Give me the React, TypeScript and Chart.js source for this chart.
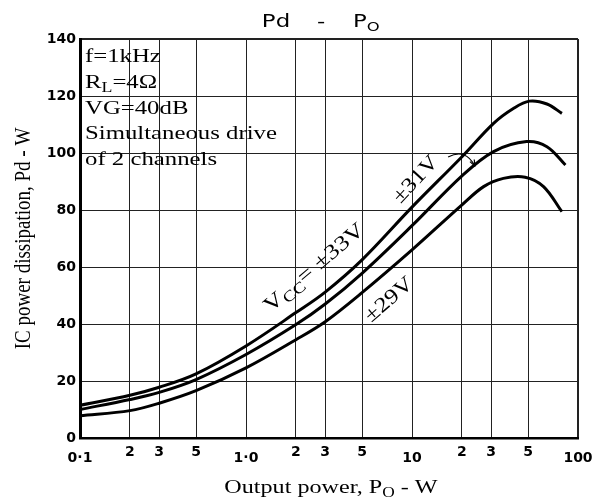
import React, { useEffect, useRef } from 'react';
import { Chart, registerables } from 'chart.js';

Chart.register(...registerables);

// Output power (W) and IC dissipation (W)
const vcc33Po = [0.1, 0.2, 0.3, 0.5, 1, 2, 3, 5, 10, 20, 31, 41, 51, 65, 80];
const vcc33Pd = [11.5, 15, 17.8, 22.5, 32.3, 44, 51.2, 62.5, 81, 98.7, 110.4, 115.7, 118.2, 117.2, 113.9];
const vcc31Po = [0.1, 0.2, 0.3, 0.5, 1, 2, 3, 5, 10, 20, 31, 49, 65, 84];
const vcc31Pd = [10, 13.5, 16, 20.5, 29.3, 39.8, 47, 57.8, 74.5, 92, 100.5, 104, 102.2, 95.8];
const vcc29Po = [0.1, 0.2, 0.3, 0.5, 1, 2, 3, 5, 10, 20, 27, 35.5, 48, 62, 80];
const vcc29Pd = [7.8, 9.6, 12.2, 16.6, 24.6, 34.5, 40.8, 51, 66, 81.8, 88.2, 91.1, 91.5, 88.2, 79.4];

const xTickValues = [0.1, 0.2, 0.3, 0.5, 1, 2, 3, 5, 10, 20, 30, 50, 100];
const xTickLabels = ['0·1', '2', '3', '5', '1·0', '2', '3', '5', '10', '2', '3', '5', '100'];
const conditions = ['f=1kHz', 'RL=4Ω', 'VG=40dB', 'Simultaneous drive', 'of 2 channels'];

const SERIF = '"Liberation Serif", "Times New Roman", serif';
const SANS = '"DejaVu Sans", sans-serif';
const STRETCH = 1.27; // the scan is wider than it is tall

type Seg = [string, boolean?];

function drawRich(
  ctx: CanvasRenderingContext2D,
  segs: Seg[],
  x: number,
  y: number,
  size: number,
  family: string,
  opts: { center?: boolean; middle?: boolean; angle?: number; sx?: number; sy?: number } = {}
) {
  const { center = false, middle = false, angle = 0, sx = STRETCH, sy = 1 } = opts;
  ctx.save();
  ctx.translate(x, y);
  ctx.rotate(angle);
  ctx.scale(sx, sy);
  ctx.fillStyle = '#000';
  ctx.textAlign = 'left';
  ctx.textBaseline = 'alphabetic';
  const fontOf = (sub?: boolean) => `${sub ? size * 0.72 : size}px ${family}`;
  let total = 0;
  segs.forEach(([t, sub]) => {
    ctx.font = fontOf(sub);
    total += ctx.measureText(t).width;
  });
  let cx = center ? -total / 2 : 0;
  const base = middle ? size * 0.33 : 0;
  segs.forEach(([t, sub]) => {
    ctx.font = fontOf(sub);
    ctx.fillText(t, cx, base + (sub ? size * 0.22 : 0));
    cx += ctx.measureText(t).width;
  });
  ctx.restore();
}

const deg = (d: number) => (d * Math.PI) / 180;

const annotations = {
  id: 'annotations',
  afterDraw(chart: Chart) {
    const ctx = chart.ctx;
    const xs = chart.scales.x;
    const ys = chart.scales.y;
    const px = (v: number) => xs.getPixelForValue(v);
    const py = (v: number) => ys.getPixelForValue(v);
    const { left, right, top, bottom } = chart.chartArea;

    // title "Pd - Po"
    drawRich(ctx, [['Pd']], 276, 27, 18, SANS, { center: true });
    drawRich(ctx, [['-']], 321, 27, 18, SANS, { center: true });
    drawRich(ctx, [['P'], ['O', true]], 353, 27, 18, SANS);

    // axis titles
    drawRich(ctx, [['IC power dissipation, Pd - W']], 30, (top + bottom) / 2, 19, SERIF, {
      center: true,
      angle: -Math.PI / 2,
      sx: 1,
      sy: STRETCH,
    });
    drawRich(ctx, [['Output power, P'], ['O', true], [' - W']], (left + right) / 2 + 2, 493, 19, SERIF, {
      center: true,
    });

    // test conditions
    conditions.forEach((line, i) => {
      const segs: Seg[] = line.startsWith('RL') ? [['R'], ['L', true], [line.slice(2)]] : [[line]];
      drawRich(ctx, segs, left + 5, 62 + i * 25.8, 19.5, SERIF);
    });

    // curve labels
    drawRich(ctx, [['V'], ['CC', true], ['= ±33V']], px(2.55), py(60), 21, SERIF, {
      center: true,
      middle: true,
      angle: deg(-40.5),
      sx: 1.25,
    });
    drawRich(ctx, [['±29V']], px(7.2), py(48.8), 21, SERIF, {
      center: true,
      middle: true,
      angle: deg(-41),
      sx: 1.2,
    });
    drawRich(ctx, [['±31V']], px(10.4), py(91), 21, SERIF, {
      center: true,
      middle: true,
      angle: deg(-47),
      sx: 1.2,
    });

    // little arrow pointing at the ±31V curve
    const x0 = px(16.5), y0 = py(98.6);
    const x1 = px(21), y1 = py(101.8);
    const x2 = px(24), y2 = py(95.3);
    ctx.save();
    ctx.strokeStyle = '#000';
    ctx.lineWidth = 1.2;
    ctx.beginPath();
    ctx.moveTo(x0, y0);
    ctx.quadraticCurveTo(x1, y1, x2, y2);
    ctx.stroke();
    const a = Math.atan2(y2 - y1, x2 - x1);
    ctx.beginPath();
    ctx.moveTo(x2, y2);
    ctx.lineTo(x2 - 7 * Math.cos(a - 0.35), y2 - 7 * Math.sin(a - 0.35));
    ctx.moveTo(x2, y2);
    ctx.lineTo(x2 - 7 * Math.cos(a + 0.35), y2 - 7 * Math.sin(a + 0.35));
    ctx.stroke();
    ctx.restore();
  },
};

const toPoints = (xs: number[], ys: number[]) => xs.map((x, i) => ({ x, y: ys[i] }));
const isDecade = (v: number) => Math.abs(Math.log10(v) - Math.round(Math.log10(v))) < 1e-6;

export default function App() {
  const canvasRef = useRef<HTMLCanvasElement | null>(null);

  useEffect(() => {
    document.body.style.margin = '0';
    const canvas = canvasRef.current;
    if (!canvas) return;

    const curve = (label: string, data: { x: number; y: number }[]) => ({
      label,
      data,
      borderColor: '#000',
      borderWidth: 3,
      pointRadius: 0,
      fill: false,
      tension: 0.35,
    });

    const chart = new Chart(canvas, {
      type: 'line',
      data: {
        datasets: [
          curve('±33V', toPoints(vcc33Po, vcc33Pd)),
          curve('±31V', toPoints(vcc31Po, vcc31Pd)),
          curve('±29V', toPoints(vcc29Po, vcc29Pd)),
        ],
      },
      options: {
        responsive: true,
        maintainAspectRatio: false,
        animation: false,
        layout: { padding: { top: 39, right: 25, left: 0, bottom: 0 } },
        plugins: {
          legend: { display: false },
          tooltip: { enabled: false },
          title: { display: false },
        },
        scales: {
          x: {
            type: 'logarithmic',
            min: 0.1,
            max: 100,
            afterBuildTicks: (scale: any) => {
              scale.ticks = xTickValues.map((value) => ({ value }));
            },
            afterFit: (scale: any) => {
              scale.height = 64;
            },
            ticks: {
              autoSkip: false,
              maxRotation: 0,
              padding: 4,
              color: '#000',
              // decade labels sit a little lower than the 2/3/5 ones
              font: (c: any) => ({
                family: SANS,
                size: 14,
                weight: 'bold',
                lineHeight: c.tick && isDecade(c.tick.value) ? '32px' : '20px',
              }),
              callback: (_v: any, i: number) => xTickLabels[i],
            },
            grid: {
              color: '#222',
              lineWidth: (c: any) => (c.tick && c.tick.value === 100 ? 2 : 1),
              drawTicks: false,
            },
            border: { color: '#000', width: 2.5 },
          },
          y: {
            min: 0,
            max: 140,
            afterFit: (scale: any) => {
              scale.width = 80;
            },
            ticks: {
              stepSize: 20,
              padding: 4,
              color: '#000',
              font: { family: SANS, size: 14, weight: 'bold' },
            },
            grid: {
              color: '#222',
              lineWidth: (c: any) => (c.tick && c.tick.value === 140 ? 2 : 1),
              drawTicks: false,
            },
            border: { color: '#000', width: 3 },
          },
        },
      },
      plugins: [annotations],
    });

    return () => chart.destroy();
  }, []);

  return (
    <div style={{ width: 603, height: 502, background: '#fff', position: 'relative' }}>
      <canvas ref={canvasRef}></canvas>
    </div>
  );
}
